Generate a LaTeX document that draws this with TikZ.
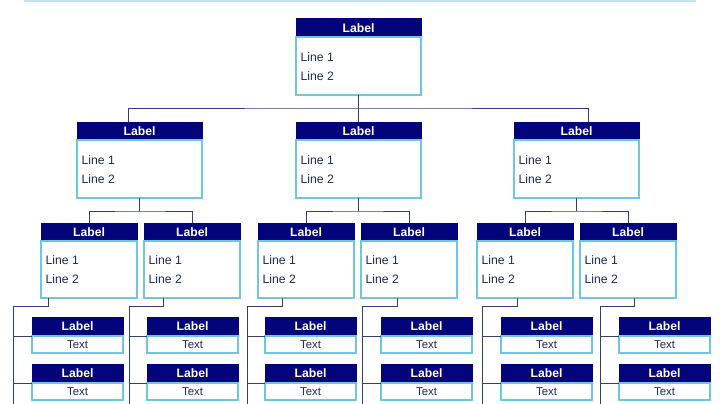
\documentclass[tikz,border=0pt]{standalone}
\usepackage{fontspec}
\setmainfont{Liberation Sans}
\usepackage{xcolor}
\usetikzlibrary{positioning}
\definecolor{hdblue}{RGB}{4,4,122}
\definecolor{bdcyan}{RGB}{112,198,218}
\definecolor{lkblue}{RGB}{52,62,112}
\definecolor{txdark}{RGB}{32,40,92}
\definecolor{toplite}{RGB}{196,228,246}
% name, left, top, width, body height
\newcommand{\mainbox}[5]{%
  \node[hd, minimum width=#4pt, anchor=north west] (#1-h) at (#2,#3) {Label};
  \node[bd, minimum width=#4pt, minimum height=#5pt, below=0pt of #1-h] (#1) {};
  \node[lines] (#1-t) at ([xshift=4.5pt,yshift=-0.5pt]#1.west) {Line 1\\Line 2};}
% name, left, top
\newcommand{\leafbox}[3]{%
  \node[hd, minimum width=91pt, minimum height=19pt, anchor=north west] (#1-h) at (#2,#3) {Label};
  \node[leaf, below=0pt of #1-h] (#1) {Text};}

\begin{document}
\begin{tikzpicture}[x=1pt,y=-1pt,
  hd/.style={fill=hdblue, draw=hdblue, line width=1pt, text=white,
    font=\fontsize{12.2}{14}\selectfont\bfseries, inner sep=0pt, outer sep=0pt,
    minimum height=18pt},
  bd/.style={draw=bdcyan, fill=white, line width=1.3pt, inner sep=0pt, outer sep=0pt},
  lines/.style={text=txdark, font=\fontsize{12.2}{19}\selectfont, align=left,
    inner sep=0pt, anchor=west},
  leaf/.style={bd, minimum width=91pt, minimum height=17pt, text=txdark,
    font=\fontsize{11.4}{13}\selectfont},
  link/.style={draw=lkblue, line width=1pt}]
\useasboundingbox (0,0) rectangle (720,404);
\draw[toplite, line width=1.6pt] (24,0.8) -- (696,0.8);

% boxes
\mainbox{top}{296}{19}{125}{58}
\mainbox{a}{77}{122}{125}{58}
\mainbox{b}{296}{122}{125}{58}
\mainbox{c}{514}{122}{125}{58}
\mainbox{a1}{41}{223}{96}{57}
\mainbox{a2}{144}{223}{96}{57}
\mainbox{b1}{258}{223}{96}{57}
\mainbox{b2}{361}{223}{96}{57}
\mainbox{c1}{477}{223}{96}{57}
\mainbox{c2}{580}{223}{96}{57}

% top level links
\coordinate (top-j) at (top.south |- 0,108);
\draw[link] (top.south) -- (top-j) -- (b-h.north);
\draw[link] ([xshift=-11.5pt]a-h.north) |- (top-j) -| ([xshift=11.5pt]c-h.north);

% second level links
\foreach \n in {a,b,c} {
  \coordinate (\n-j) at (\n.south |- 0,211);
  \draw[link] (\n.south) -- (\n-j);
  \draw[link] (\n1-h.north) |- (\n-j) -| (\n2-h.north);
}

% leaves and their trunks
\foreach \n/\x/\s/\t in {a1/32/48/13, a2/147/163/129, b1/265/282/247,
    b2/381/397/362, c1/501/517/482, c2/619/634/600} {
  \leafbox{\n-1}{\x}{317}
  \leafbox{\n-2}{\x}{364}
  \coordinate (\n-k) at (\t,306);
  \coordinate (\n-e) at (\t,404);
  \draw[link] (\n.south -| \s,0) |- (\n-k) -- (\n-e);
  \draw[link] (\n-k |- \n-1.north west) -- (\n-1.north west);
  \draw[link] (\n-k |- \n-2.north west) -- (\n-2.north west);
}
\end{tikzpicture}
\end{document}
